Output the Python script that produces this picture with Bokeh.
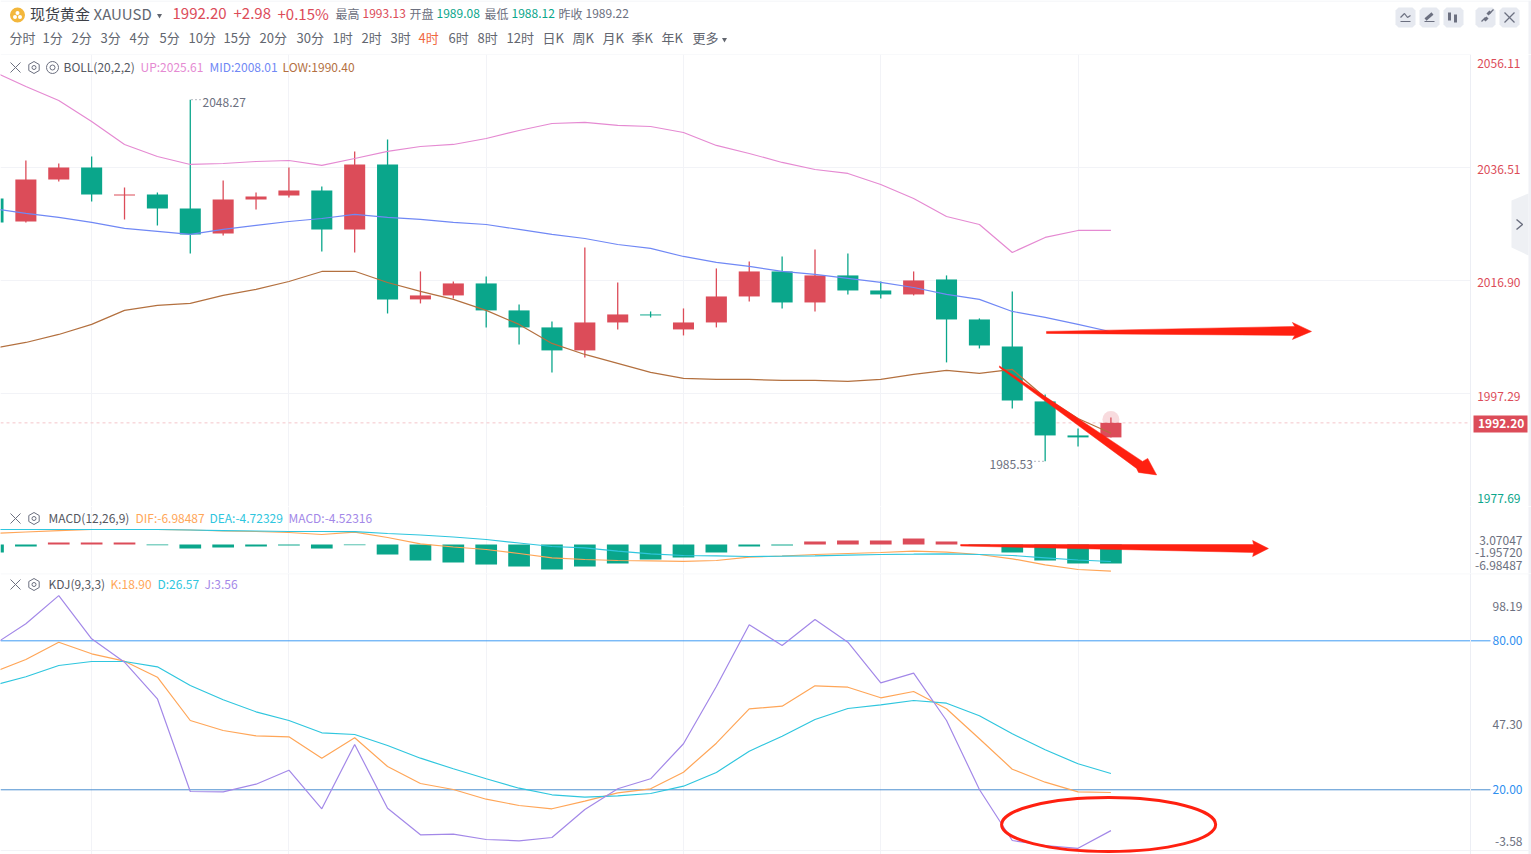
import math

from bokeh.core.properties import value
from bokeh.embed import file_html
from bokeh.layouts import column
from bokeh.models import (
    ColumnDataSource,
    CustomJSTickFormatter,
    FixedTicker,
    Range1d,
)
from bokeh.plotting import figure
from bokeh.resources import INLINE

FONT = "Noto Sans CJK SC"
RED = "#dc4c59"
GREEN = "#0aa68b"
GRAY = "#6c7080"
PINK = "#e58ad2"
BLUE = "#7088f5"
BROWN = "#b3703f"
ORANGE = "#ffa658"
CYAN = "#2fc6de"
PURPLE = "#a388e8"
LINE_BLUE = "#3f9bf3"
MARK_RED = "#ff2010"
GRID = "#f2f3f7"
STRIP = "#f0f1f6"

# ── Price data ────────────────────────────────────────────────────────────────
opens = [
    2031.13, 2027.14, 2034.43, 2036.51, 2031.65, 2031.83, 2029.40, 2025.06, 2030.96,
    2031.65, 2032.52, 2025.76, 2037.03, 2013.62, 2014.31, 2016.39, 2011.71, 2008.76,
    2004.77, 2009.62, 2011.01, 2008.41, 2009.62, 2014.13, 2018.47, 2013.09, 2017.78,
    2015.17, 2014.48, 2017.08, 2010.14, 2005.46, 1995.92, 1990.02, 1989.68,
]
closes = [
    2026.97, 2034.43, 2036.51, 2031.83, 2031.83, 2029.40, 2024.89, 2030.96, 2031.48,
    2032.52, 2025.76, 2037.03, 2013.62, 2014.31, 2016.39, 2011.71, 2008.76, 2004.77,
    2009.62, 2011.01, 2010.84, 2009.62, 2014.13, 2018.47, 2013.09, 2017.78, 2015.17,
    2014.48, 2016.91, 2010.14, 2005.63, 1996.09, 1990.02, 1989.68, 1992.20,
]
highs = [
    2031.13, 2037.72, 2037.20, 2038.42, 2033.04, 2032.17, 2048.27, 2034.25, 2032.17,
    2036.51, 2033.21, 2039.29, 2041.37, 2018.47, 2016.73, 2017.60, 2012.75, 2009.80,
    2022.63, 2016.56, 2011.53, 2012.05, 2018.99, 2020.20, 2021.07, 2022.29, 2021.59,
    2016.73, 2018.47, 2017.78, 2010.32, 2015.00, 1997.13, 1991.24, 1993.13,
]
lows = [
    2026.97, 2026.97, 2034.08, 2030.61, 2027.49, 2026.45, 2021.59, 2024.71, 2029.22,
    2031.31, 2021.94, 2021.77, 2011.18, 2012.92, 2013.79, 2008.76, 2005.81, 2000.95,
    2003.55, 2008.41, 2010.49, 2007.37, 2008.76, 2013.27, 2012.05, 2011.53, 2014.48,
    2013.79, 2014.31, 2002.69, 2005.11, 1994.71, 1985.53, 1988.11, 1989.68,
]
boll_up = [
    2053.16, 2050.56, 2048.13, 2044.49, 2040.50, 2038.42, 2037.03, 2037.20, 2037.55,
    2037.72, 2036.86, 2038.07, 2039.29, 2040.15, 2040.50, 2041.54, 2042.93, 2044.14,
    2044.32, 2043.80, 2043.62, 2042.58, 2040.33, 2038.94, 2037.38, 2036.16, 2035.47,
    2033.56, 2031.13, 2028.01, 2026.62, 2021.77, 2024.37, 2025.58, 2025.61,
]
boll_mid = [
    2029.40, 2028.53, 2027.84, 2026.97, 2025.93, 2025.41, 2024.89, 2025.76, 2026.45,
    2027.14, 2027.66, 2028.36, 2027.84, 2027.49, 2026.97, 2026.62, 2025.76, 2024.89,
    2024.19, 2023.15, 2022.46, 2021.07, 2020.03, 2019.34, 2018.47, 2017.95, 2017.26,
    2016.56, 2015.69, 2014.48, 2013.62, 2011.53, 2010.49, 2009.28, 2008.01,
]
boll_low = [
    2005.11, 2006.15, 2007.54, 2009.28, 2011.71, 2012.57, 2012.92, 2014.31, 2015.35,
    2016.73, 2018.47, 2018.50, 2016.56, 2015.00, 2013.62, 2011.71, 2009.28, 2005.98,
    2004.07, 2002.51, 2000.95, 1999.91, 1999.74, 1999.74, 1999.56, 1999.56, 1999.39,
    1999.74, 2000.60, 2001.30, 2000.78, 2001.47, 1996.61, 1992.97, 1990.40,
]

# ── MACD data ─────────────────────────────────────────────────────────────────
macd_bars = [
    -2.09, -0.52, 0.52, 0.52, 0.52, -0.18, -1.05, -0.79, -0.52, -0.26, -1.05, -0.18,
    -2.62, -4.19, -4.71, -5.24, -5.76, -6.54, -5.76, -4.97, -3.93, -3.40, -2.09, -0.52,
    -0.26, 0.79, 1.05, 1.05, 1.57, 0.79, -0.18, -2.09, -4.19, -4.97, -4.97,
]
macd_dif = [
    2.88, 3.27, 3.66, 3.93, 3.93, 3.93, 3.80, 3.53, 3.40, 3.14, 2.62, 3.22,
    1.83, 0.18, -0.65, -1.31, -2.36, -3.48, -3.93, -4.19, -4.27, -4.40, -4.19, -3.32,
    -3.01, -2.62, -2.36, -2.09, -1.75, -2.02, -2.62, -3.74, -5.31, -6.54, -6.98,
]
macd_dea = [
    3.93, 3.93, 3.93, 3.93, 3.93, 3.93, 3.80, 3.66, 3.53, 3.40, 3.40, 3.35,
    2.88, 2.49, 1.96, 1.31, 0.39, -0.52, -0.86, -1.75, -2.43, -2.88, -2.96, -3.14,
    -3.06, -2.96, -2.80, -2.62, -2.54, -2.43, -2.62, -2.88, -3.48, -4.06, -4.45,
]

# ── KDJ data ──────────────────────────────────────────────────────────────────
kdj_k = [
    67.24, 72.48, 79.44, 74.77, 71.79, 65.35, 47.91, 43.88, 41.75, 41.35, 32.73, 40.94,
    29.38, 22.54, 20.12, 16.21, 13.68, 12.35, 15.41, 18.79, 20.40, 27.09, 38.77, 52.62,
    53.67, 61.88, 61.32, 57.05, 59.59, 52.62, 40.54, 28.30, 23.06, 19.19, 18.90,
]
kdj_d = [
    62.01, 65.51, 70.06, 71.67, 71.67, 69.54, 62.01, 56.25, 51.41, 47.91, 42.96, 42.27,
    37.84, 32.73, 28.46, 24.43, 20.64, 17.99, 17.02, 17.58, 18.51, 21.45, 26.97, 35.55,
    41.59, 48.31, 52.74, 54.23, 55.96, 54.88, 49.80, 42.55, 36.11, 30.47, 26.57,
]
kdj_j = [
    78.24, 86.85, 98.19, 80.81, 71.39, 56.65, 19.32, 19.19, 22.26, 27.89, 12.35, 38.24,
    12.59, 1.88, 2.12, -0.02, -0.54, 0.79, 12.07, 20.40, 24.43, 38.53, 61.60, 86.45,
    78.12, 88.59, 79.44, 63.09, 66.96, 47.91, 20.12, -0.42, -2.43, -3.58, 3.56,
]

# ── Axis labels ───────────────────────────────────────────────────────────────
price_ticks = [2056.11, 2036.51, 2016.90, 1997.29, 1977.69]
price_tick_labels = ["2056.11", "2036.51", "2016.90", "1997.29", "1977.69"]
macd_tick_labels = ["3.07047", "-1.95720", "-6.98487"]
kdj_ticks = [80.00, 20.00]
kdj_tick_labels = ["98.19", "80.00", "47.30", "20.00", "-3.58"]

# hand drawn marks on the picture, in chart units (bar index, panel value)
flat_arrow_x = [32.04, 39.59, 39.52, 40.10, 39.52, 39.59, 32.04]
flat_arrow_y = [2008.06, 2008.93, 2009.62, 2008.06, 2006.67, 2007.37, 2007.72]
down_arrow_x = [30.61, 34.96, 35.12, 35.39, 34.84, 34.78, 30.61]
down_arrow_y = [2002.08, 1985.51, 1986.03, 1983.17, 1983.60, 1984.30, 2001.82]
macd_arrow_x = [29.43, 38.34, 38.31, 38.79, 38.31, 38.34, 29.43]
macd_arrow_y = [0.0, 0.0, 1.05, -1.05, -3.14, -2.09, -0.39]

header_top = ["现货黄金", "XAUUSD", "1992.20", "+2.98", "+0.15%", "最高", "1993.13",
              "开盘", "1989.08", "最低", "1988.12", "昨收", "1989.22"]
periods = ["分时", "1分", "2分", "3分", "4分", "5分", "10分", "15分", "20分", "30分",
           "1时", "2时", "3时", "4时", "6时", "8时", "12时", "日K", "周K", "月K", "季K",
           "年K", "更多"]

bars = list(range(len(opens)))
WIDTH = 1531
AXIS_X = 1470
BAR_STEP = 32.88
BAR_ZERO = -7.5
LINE_W = 1.2


def to_x(px):
    return (px - BAR_ZERO) / BAR_STEP


def scale_y(y_top, y_bottom, px_top, px_bottom):
    return lambda px: y_top - (px - px_top) / (px_bottom - px_top) * (y_top - y_bottom)


x_range = Range1d(to_x(0), to_x(WIDTH))


def make_panel(height, y_start, y_end, axis_ticks):
    p = figure(
        width=WIDTH, height=height,
        x_range=x_range, y_range=Range1d(y_start, y_end),
        y_axis_location="right",
        tools="", toolbar_location=None, output_backend="svg",
        min_border=0,
        outline_line_color=None, background_fill_color="white", border_fill_color="white",
    )
    p.xaxis.visible = False
    p.xgrid.ticker = FixedTicker(ticks=bars[3::6])
    p.xgrid.grid_line_color = GRID
    p.ygrid.visible = False
    p.yaxis.fixed_location = to_x(AXIS_X)
    p.yaxis.ticker = FixedTicker(ticks=axis_ticks)
    p.yaxis.formatter = CustomJSTickFormatter(code="return ''")
    p.yaxis.axis_line_color = "#eceef4"
    p.yaxis.major_tick_line_color = None
    p.yaxis.minor_tick_line_color = None
    # pale strip down the right edge of the page
    p.quad(left=[to_x(1528)], right=[to_x(1531)], bottom=[y_start], top=[y_end],
           fill_color=STRIP, line_color=None)
    return p


def add_texts(p, xs, ys, texts, colors, size="12px", align="left", style="normal", lift=0):
    p.text(
        x=xs, y=ys, text=texts, text_color=colors, y_offset=-lift,
        text_font=value(FONT), text_font_size=size, text_font_style=style,
        text_baseline="middle", text_align=align,
    )


def add_rules(p, ys, right_px):
    p.segment(x0=[to_x(0)] * len(ys), x1=[to_x(right_px)] * len(ys), y0=ys, y1=ys,
              line_color=GRID, line_width=1)


def add_legend_icons(p, ypx, y_of, eye=False):
    cy = y_of(ypx)
    dy = y_of(ypx - 5) - cy
    p.multi_line(
        xs=[[to_x(10), to_x(20)], [to_x(10), to_x(20)]],
        ys=[[cy + dy, cy - dy], [cy - dy, cy + dy]],
        line_color=GRAY, line_width=1,
    )
    p.scatter([to_x(33.5)], [cy], marker="hex", angle=math.pi / 2, size=12,
              fill_color=None, line_color=GRAY, line_width=1)
    p.scatter([to_x(33.5)], [cy], marker="circle", size=4, fill_color=None, line_color=GRAY)
    if eye:
        p.scatter([to_x(52)], [cy], marker="circle", size=12, fill_color=None, line_color=GRAY)
        p.scatter([to_x(52)], [cy], marker="circle", size=5, fill_color=None, line_color=GRAY)


# ── Header ────────────────────────────────────────────────────────────────────
head = figure(
    width=WIDTH, height=54,
    x_range=Range1d(0, WIDTH), y_range=Range1d(54, 0),
    x_axis_location=None, y_axis_location=None,
    tools="", toolbar_location=None, output_backend="svg",
    min_border=0, outline_line_color=None, border_fill_color="white",
)
head.grid.visible = False
head.segment(x0=[0], x1=[WIDTH], y0=[0.5], y1=[0.5], line_color=STRIP, line_width=1)
head.quad(left=[1528], right=[1531], bottom=[54], top=[0], fill_color=STRIP, line_color=None)

head.scatter([17], [14.5], marker="circle", size=15, fill_color="#f3b73c", line_color=None)
head.scatter([14.5, 19.5, 17], [16.5, 16.5, 12.5], marker="circle", size=4,
             fill_color="white", line_color=None)
add_texts(head, [29.5], [14], header_top[:1], ["#3d3f47"], "15px", lift=1)
add_texts(head, [93], [14], header_top[1:2], ["#62666f"], "15px", lift=1)
add_texts(head, [172, 233, 277], [14, 14, 14], header_top[2:5], [RED] * 3, "15px", lift=1)
add_texts(
    head,
    [335, 362, 409, 436, 484, 511, 558, 585], [14] * 8, header_top[5:],
    [GRAY, RED, GRAY, GREEN, GRAY, GREEN, GRAY, GRAY], lift=1,
)
head.scatter([159, 724], [15, 39], marker="inverted_triangle", size=5,
             fill_color="#62666f", line_color=None)

period_x = [9, 42, 71, 100, 129, 159, 188, 223, 259, 296, 332, 361, 390, 418, 448, 477,
            506, 542, 572, 602, 631, 661, 692]
add_texts(head, period_x, [38] * len(period_x), periods,
          ["#f0673f" if t == "4时" else "#62666f" for t in periods], "13px", lift=1)

# toolbar buttons at the top right
button_x = [1395, 1419, 1443, 1475, 1499]
for bx in button_x:
    head.patch(
        [bx + 3, bx + 17, bx + 20, bx + 20, bx + 17, bx + 3, bx, bx],
        [7, 7, 10, 24, 27, 27, 24, 10],
        fill_color="#e6e9f0", line_color=None,
    )
head.multi_line(
    xs=[[1400, 1404, 1407, 1410], [1400, 1410], [1424, 1434], [1504, 1514], [1504, 1514],
        [1481, 1485], [1489, 1493]],
    ys=[[17, 13, 17, 15], [21, 21], [21, 21], [12, 22], [22, 12], [21, 17], [13, 9]],
    line_color=GRAY, line_width=1.2,
)
head.segment(x0=[1425, 1449, 1455, 1484, 1487], y0=[19, 12, 14, 20, 14],
             x1=[1432, 1449, 1455, 1487, 1490], y1=[13, 20, 22, 17, 11],
             line_color=GRAY, line_width=3)

# ── Price panel ───────────────────────────────────────────────────────────────
price = make_panel(452, price_ticks[-1], price_ticks[0], price_ticks)
price_y = scale_y(price_ticks[0], price_ticks[-1], 54, 506)
add_rules(price, price_ticks[:-1], AXIS_X)
add_rules(price, price_ticks[-1:], WIDTH)

source = ColumnDataSource(dict(
    x=bars, high=highs, low=lows,
    top=[max(o, c) for o, c in zip(opens, closes)],
    bottom=[min(o, c) for o, c in zip(opens, closes)],
    color=[RED if c >= o else GREEN for o, c in zip(opens, closes)],
))
price.line([to_x(0), to_x(AXIS_X)], [closes[-1]] * 2,
           line_color="#f4c6ca", line_dash=[3, 3], line_width=1)
price.scatter([bars[-1]], [closes[-1] + 0.6], marker="circle", size=17, fill_color=RED,
              fill_alpha=0.2, line_color=None)
price.segment(x0="x", y0="low", x1="x", y1="high", source=source, line_color="color", line_width=1.3)
price.vbar(x="x", top="top", bottom="bottom", width=0.64, source=source,
           fill_color="color", line_color=None)
price.line(bars, boll_up, line_color=PINK, line_width=LINE_W)
price.line(bars, boll_mid, line_color=BLUE, line_width=LINE_W)
price.line(bars, boll_low, line_color=BROWN, line_width=LINE_W)

price.line([to_x(191), to_x(201)], [max(highs)] * 2, line_color=GRAY, line_dash=[1, 3])
price.line([to_x(1034), to_x(1045)], [min(lows)] * 2, line_color=GRAY, line_dash=[1, 3])
add_texts(price, [to_x(202), to_x(989)], [price_y(102), price_y(464)],
          ["2048.27", "1985.53"], [GRAY, GRAY])

add_legend_icons(price, 67, price_y, eye=True)
add_texts(
    price, [to_x(v) for v in [63, 140, 209, 282]], [price_y(67)] * 4,
    ["BOLL(20,2,2)", "UP:2025.61", "MID:2008.01", "LOW:1990.40"],
    ["#55585f", PINK, BLUE, BROWN], lift=1.5,
)
add_texts(price, [to_x(1520)] * 5, [price_y(v) for v in [63, 169, 282, 396, 498]],
          price_tick_labels, [RED] * 4 + [GREEN], align="right")

price.patch(flat_arrow_x, flat_arrow_y, fill_color=MARK_RED, line_color=MARK_RED, line_width=0.5)
price.patch(down_arrow_x, down_arrow_y, fill_color=MARK_RED, line_color=MARK_RED, line_width=0.5)

# last price badge on the axis
price.quad(left=[to_x(1473)], right=[to_x(1527)], top=[price_y(415)], bottom=[price_y(432)],
           fill_color=RED, line_color=None)
add_texts(price, [to_x(1477.5)], [price_y(423.5)], ["1992.20"], ["white"], style="bold", lift=1)

# collapse tab in the right gutter
price.patch(
    [to_x(1511), to_x(1528), to_x(1528), to_x(1511)],
    [price_y(200), price_y(193), price_y(255), price_y(247)],
    fill_color="#eef0f4", line_color=None,
)
price.line([to_x(1516), to_x(1522), to_x(1516)], [price_y(219), price_y(224), price_y(229)],
           line_color=GRAY, line_width=1.5)

# ── MACD panel ────────────────────────────────────────────────────────────────
macd = make_panel(67, -7.59, 9.95, [])
macd_y = scale_y(9.95, -7.59, 506, 573)

macd.vbar(x=bars, top=[max(v, 0) for v in macd_bars], bottom=[min(v, 0) for v in macd_bars],
          width=0.66, fill_color=[RED if v > 0 else GREEN for v in macd_bars], line_color=None)
macd.line(bars, macd_dif, line_color=ORANGE, line_width=LINE_W)
macd.line(bars, macd_dea, line_color=CYAN, line_width=LINE_W)
macd.patch(macd_arrow_x, macd_arrow_y, fill_color=MARK_RED, line_color=MARK_RED, line_width=0.5)

add_legend_icons(macd, 518, macd_y)
add_texts(
    macd, [to_x(v) for v in [48, 135, 209, 288]], [macd_y(518)] * 4,
    ["MACD(12,26,9)", "DIF:-6.98487", "DEA:-4.72329", "MACD:-4.52316"],
    ["#55585f", ORANGE, CYAN, PURPLE], lift=1.5,
)
add_texts(macd, [to_x(1522)] * 3, [macd_y(v) for v in [540, 552, 565]],
          macd_tick_labels, [GRAY] * 3, align="right")

# ── KDJ panel ─────────────────────────────────────────────────────────────────
kdj = make_panel(281, -6.06, 107.11, kdj_ticks)
kdj_y = scale_y(107.11, -6.06, 573, 854)

add_rules(kdj, [107.0, kdj_y(850)], WIDTH)
kdj.segment(x0=[to_x(0)] * 2, x1=[to_x(1490)] * 2, y0=kdj_ticks, y1=kdj_ticks,
            line_color=[LINE_BLUE, "#4a8fd0"], line_width=1)
kdj.line(bars, kdj_k, line_color=ORANGE, line_width=LINE_W)
kdj.line(bars, kdj_d, line_color=CYAN, line_width=LINE_W)
kdj.line(bars, kdj_j, line_color=PURPLE, line_width=LINE_W)
kdj.ellipse(x=[33.93], y=[6.0], width=[6.51], height=[21.7], fill_color=None,
            line_color=MARK_RED, line_width=3)

add_legend_icons(kdj, 584, kdj_y)
add_texts(
    kdj, [to_x(v) for v in [48, 110, 157, 204]], [kdj_y(584)] * 4,
    ["KDJ(9,3,3)", "K:18.90", "D:26.57", "J:3.56"],
    ["#55585f", ORANGE, CYAN, PURPLE], lift=1.5,
)
add_texts(kdj, [to_x(1522)] * 5, [kdj_y(v) for v in [606, 640, 724, 789, 841]],
          kdj_tick_labels, [GRAY, "#2f8fef", GRAY, "#2f8fef", GRAY], align="right")

layout = column(head, price, macd, kdj, spacing=0)
open("out.html", "w").write(file_html(layout, INLINE))
